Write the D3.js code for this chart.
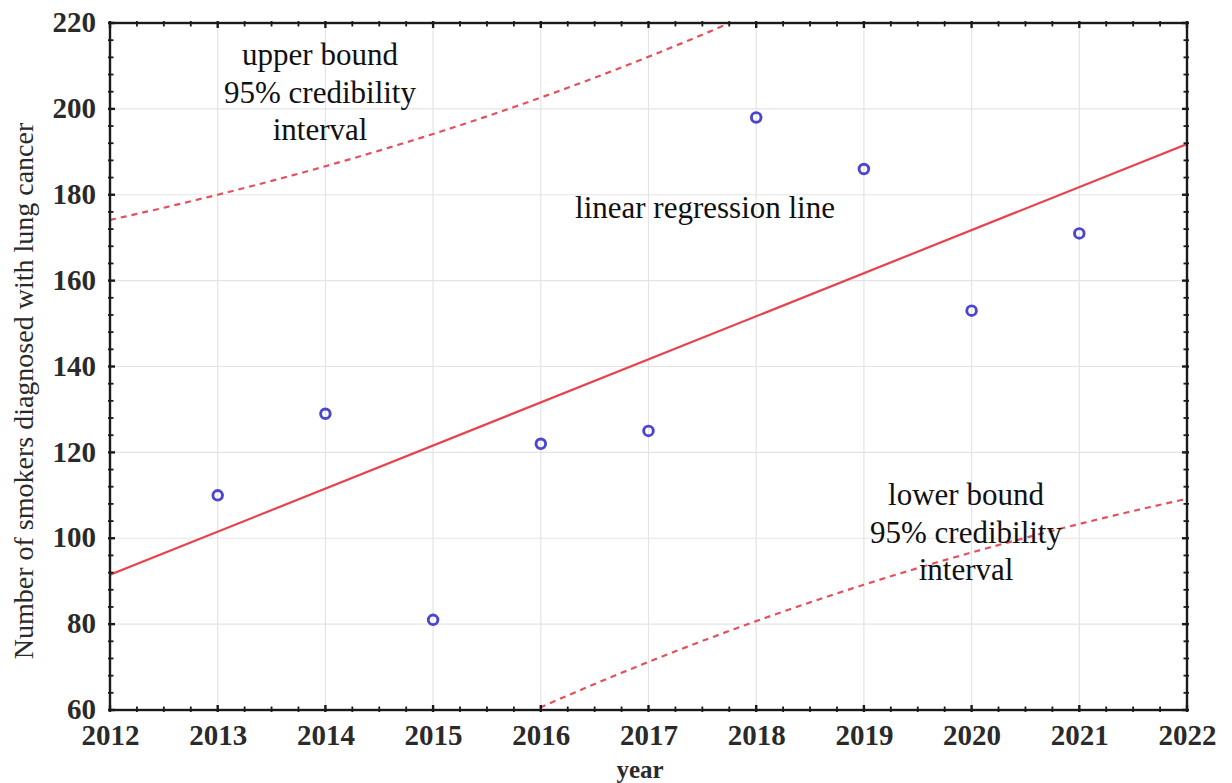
<!DOCTYPE html>
<html>
<head>
<meta charset="utf-8">
<script src="https://cdn.jsdelivr.net/npm/d3@7"></script>
<style>
  html, body { margin: 0; padding: 0; background: #fff; }
  svg { display: block; }
  text { font-family: "Liberation Serif", "Times New Roman", Times, serif; }
</style>
</head>
<body>
<svg id="chart" width="1232" height="783"></svg>
<script>
// Yearly counts of smokers diagnosed with lung cancer
const years  = [2013, 2014, 2015, 2016, 2017, 2018, 2019, 2020, 2021];
const counts = [110, 129, 81, 122, 125, 198, 186, 153, 171];

const xTicks = [2012, 2013, 2014, 2015, 2016, 2017, 2018, 2019, 2020, 2021, 2022];
const yTicks = [60, 80, 100, 120, 140, 160, 180, 200, 220];

// Student t quantile (0.975, df = 7) for the 95% band
const tCrit = 2.3646;

const svg = d3.select("#chart");
const margin = { left: 110, right: 1232 - 1187, top: 23, bottom: 783 - 710 };
const W = 1232, H = 783;

const x = d3.scaleLinear().domain([2012, 2022]).range([margin.left, W - margin.right]);
const y = d3.scaleLinear().domain([60, 220]).range([H - margin.bottom, margin.top]);

// Least-squares fit and prediction band
const n = years.length;
const mx = d3.mean(years), my = d3.mean(counts);
const sxx = d3.sum(years, v => (v - mx) ** 2);
const sxy = d3.sum(years.map((v, i) => (v - mx) * (counts[i] - my)));
const slope = sxy / sxx, intercept = my - slope * mx;
const fit = v => intercept + slope * v;
const sse = d3.sum(years.map((v, i) => (counts[i] - fit(v)) ** 2));
const s = Math.sqrt(sse / (n - 2));
const half = v => tCrit * s * Math.sqrt(1 + 1 / n + (v - mx) ** 2 / sxx);

const xs = d3.range(2012, 2022.0001, 0.05);

svg.append("defs").append("clipPath").attr("id", "plot")
  .append("rect")
  .attr("x", x(2012)).attr("y", y(220))
  .attr("width", x(2022) - x(2012)).attr("height", y(60) - y(220));

// Grid
const grid = svg.append("g").attr("stroke", "#e4e4e4").attr("stroke-width", 1.2);
grid.selectAll("line.v").data(xTicks.slice(1, -1)).join("line")
  .attr("x1", d => x(d)).attr("x2", d => x(d))
  .attr("y1", y(220)).attr("y2", y(60));
grid.selectAll("line.h").data(yTicks.slice(1, -1)).join("line")
  .attr("y1", d => y(d)).attr("y2", d => y(d))
  .attr("x1", x(2012)).attr("x2", x(2022));

const plot = svg.append("g").attr("clip-path", "url(#plot)");

const line = d3.line().x(d => x(d[0])).y(d => y(d[1]));

// Regression line
plot.append("path")
  .attr("d", line([[2012, fit(2012)], [2022, fit(2022)]]))
  .attr("fill", "none").attr("stroke", "#e8424e").attr("stroke-width", 2.2);

// Band limits
[1, -1].forEach(sign => {
  plot.append("path")
    .attr("d", line(xs.map(v => [v, fit(v) + sign * half(v)])))
    .attr("fill", "none").attr("stroke", "#e4505c").attr("stroke-width", 2.2)
    .attr("stroke-dasharray", "6,5");
});

// Observations
svg.append("g").selectAll("circle").data(years).join("circle")
  .attr("cx", d => x(d)).attr("cy", (d, i) => y(counts[i]))
  .attr("r", 4.8)
  .attr("fill", "none").attr("stroke", "#4a46d2").attr("stroke-width", 2.9);

// Frame
svg.append("rect")
  .attr("x", x(2012)).attr("y", y(220))
  .attr("width", x(2022) - x(2012)).attr("height", y(60) - y(220))
  .attr("fill", "none").attr("stroke", "#1a1a1a").attr("stroke-width", 2.4);

// Axes with major/minor tick marks on all four sides
const xMinor = d3.range(2012, 2022.001, 0.25);
const yMinor = d3.range(60, 220.001, 4);
const ticks = svg.append("g").attr("stroke", "#1a1a1a");
const isMajorX = v => Math.abs(v - Math.round(v)) < 1e-6;
const isMajorY = v => Math.abs(v % 20) < 1e-6;

[y(60), y(220)].forEach((yy, k) => {
  const dir = k === 0 ? -1 : 1;
  ticks.append("g").selectAll("line").data(xMinor).join("line")
    .attr("x1", d => x(d)).attr("x2", d => x(d))
    .attr("y1", yy - dir * 2).attr("y2", d => yy + dir * (isMajorX(d) ? 5 : 3.5))
    .attr("stroke-width", d => isMajorX(d) ? 2.4 : 1.8);
});
[x(2012), x(2022)].forEach((xx, k) => {
  const dir = k === 0 ? 1 : -1;
  ticks.append("g").selectAll("line").data(yMinor).join("line")
    .attr("y1", d => y(d)).attr("y2", d => y(d))
    .attr("x1", xx - dir * 2).attr("x2", d => xx + dir * (isMajorY(d) ? 5 : 3.5))
    .attr("stroke-width", d => isMajorY(d) ? 2.4 : 1.8);
});

// Tick labels via d3 axes (tick lines hidden, drawn above)
const xAxis = svg.append("g")
  .attr("transform", `translate(0,${y(60)})`)
  .call(d3.axisBottom(x).tickValues(xTicks).tickFormat(d3.format("d")).tickSize(0).tickPadding(17));
const yAxis = svg.append("g")
  .attr("transform", `translate(${x(2012)},0)`)
  .call(d3.axisLeft(y).tickValues(yTicks).tickSize(0).tickPadding(14));
[xAxis, yAxis].forEach(g => {
  g.select(".domain").remove();
  g.selectAll("text")
    .attr("font-family", "'Liberation Serif', 'Times New Roman', Times, serif")
    .attr("font-size", 29).attr("font-weight", "bold").attr("fill", "#2a2a2a");
});
xAxis.selectAll("text").attr("dy", "0.62em");
yAxis.selectAll("text").attr("dy", "0.3em");

// Axis titles
svg.append("text")
  .attr("x", 640).attr("y", 778)
  .attr("text-anchor", "middle")
  .attr("font-size", 25).attr("font-weight", "bold").attr("fill", "#2a2a2a")
  .text("year");

svg.append("text")
  .attr("transform", "translate(33,391) rotate(-90)")
  .attr("text-anchor", "middle")
  .attr("font-size", 28).attr("fill", "#2a2a2a")
  .text("Number of smokers diagnosed with lung cancer");

// Annotations
const notes = [
  { cx: 320, lines: ["upper bound", "95% credibility", "interval"], y0: 65 },
  { cx: 705, lines: ["linear regression line"], y0: 218 },
  { cx: 966, lines: ["lower bound", "95% credibility", "interval"], y0: 505 }
];
notes.forEach(nt => {
  const t = svg.append("text")
    .attr("text-anchor", "middle").attr("font-size", 31).attr("fill", "#111");
  nt.lines.forEach((l, i) => {
    t.append("tspan").attr("x", nt.cx).attr("y", nt.y0 + i * 37.5).text(l);
  });
});
</script>
</body>
</html>
